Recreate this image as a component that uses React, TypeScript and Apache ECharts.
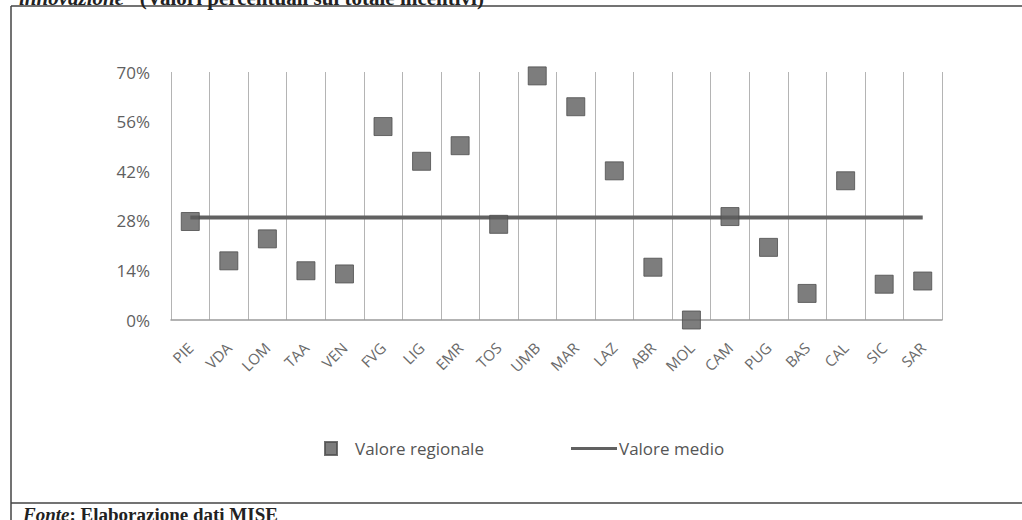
import React, { useEffect, useRef } from "react";
import * as echarts from "echarts";

const categories = ["PIE","VDA","LOM","TAA","VEN","FVG","LIG","EMR","TOS","UMB","MAR","LAZ","ABR","MOL","CAM","PUG","BAS","CAL","SIC","SAR"];
const regionalValues = [27.8, 16.7, 22.9, 13.9, 13.0, 54.6, 44.8, 49.2, 27.0, 68.9, 60.2, 42.1, 14.9, 0, 29.2, 20.5, 7.5, 39.3, 10.1, 11.0];
const averageValue = 28.9;
const averageValues = categories.map(() => averageValue);
const yTicks = { min: 0, max: 70, interval: 14 };
const titleItalic = "innovazione";
const titleRest = "(Valori percentuali sul totale incentivi)";
const footerItalic = "Fonte";
const footerRest = ": Elaborazione dati MISE";

export default function App() {
  const ref = useRef<HTMLDivElement>(null);
  useEffect(() => {
    if (!ref.current) return;
    const chart = echarts.init(ref.current, null, { renderer: "svg" });
    const font = "'Open Sans', 'Noto Sans', sans-serif";
    const serif = "'Liberation Serif', 'DejaVu Serif', serif";
    chart.setOption({
      animation: false,
      backgroundColor: "#ffffff",
      grid: { left: 171, right: 80, top: 72, bottom: 200, containLabel: false },
      xAxis: {
        type: "category",
        data: categories,
        boundaryGap: true,
        axisLine: { show: true, lineStyle: { color: "#9a9a9a", width: 1.5 } },
        axisTick: { show: false },
        splitLine: { show: true, lineStyle: { color: "#b4b4b4", width: 1 } },
        axisLabel: {
          rotate: 45,
          margin: 25,
          interval: 0,
          color: "#6a6a6a",
          fontSize: 15,
          fontFamily: font,
        },
      },
      yAxis: {
        type: "value",
        min: yTicks.min,
        max: yTicks.max,
        interval: yTicks.interval,
        axisLine: { show: false },
        axisTick: { show: false },
        splitLine: { show: false },
        axisLabel: {
          formatter: (v: number) => `${v}%`,
          color: "#5f5f5f",
          fontSize: 17,
          margin: 21,
          fontFamily: font,
        },
      },
      legend: [
        {
          data: [{ name: "Valore regionale", icon: "rect" }],
          left: 319,
          top: 435,
          itemWidth: 12,
          itemHeight: 13,
          textStyle: { color: "#555", fontSize: 17, fontFamily: font, padding: [0, 0, 0, 13] },
        },
        {
          data: [{ name: "Valore medio", icon: "rect" }],
          left: 566,
          top: 435,
          itemWidth: 46,
          itemHeight: 3,
          itemGap: 0,
          textStyle: { color: "#555", fontSize: 17, fontFamily: font, padding: [0, 0, 0, -3] },
        },
      ],
      series: [
        {
          name: "Valore medio",
          type: "line",
          data: averageValues,
          symbol: "none",
          lineStyle: { color: "#616161", width: 4 },
          itemStyle: { color: "#616161" },
          z: 2,
        },
        {
          name: "Valore regionale",
          type: "scatter",
          data: regionalValues,
          symbol: "rect",
          symbolSize: 18,
          clip: false,
          itemStyle: { color: "#5c5c5c", borderColor: "#4e4e4e", borderWidth: 1 },
          z: 3,
        },
      ],
      graphic: [
        { type: "line", shape: { x1: 11, y1: 6, x2: 1022, y2: 6 }, style: { stroke: "#444", lineWidth: 1.5 } },
        { type: "line", shape: { x1: 11, y1: 6, x2: 11, y2: 520 }, style: { stroke: "#444", lineWidth: 1.5 } },
        { type: "line", shape: { x1: 11, y1: 503, x2: 1022, y2: 503 }, style: { stroke: "#444", lineWidth: 1.5 } },
        {
          type: "text",
          x: 19,
          y: 8,
          style: {
            text: `{i|${titleItalic}}{b|   ${titleRest}}`,
            verticalAlign: "bottom",
            rich: {
              i: { font: `italic bold 21px ${serif}`, fill: "#222" },
              b: { font: `bold 21px ${serif}`, fill: "#222" },
            },
          },
        },
        {
          type: "text",
          x: 23,
          y: 505,
          style: {
            text: `{i|${footerItalic}}{b|${footerRest}}`,
            verticalAlign: "top",
            rich: {
              i: { font: `italic bold 19px ${serif}`, fill: "#222" },
              b: { font: `bold 19px ${serif}`, fill: "#222" },
            },
          },
        },
      ],
    });
    return () => chart.dispose();
  }, []);
  return (
    <div
      ref={ref}
      style={{ position: "fixed", left: 0, top: 0, width: 1022, height: 520 }}
    />
  );
}
